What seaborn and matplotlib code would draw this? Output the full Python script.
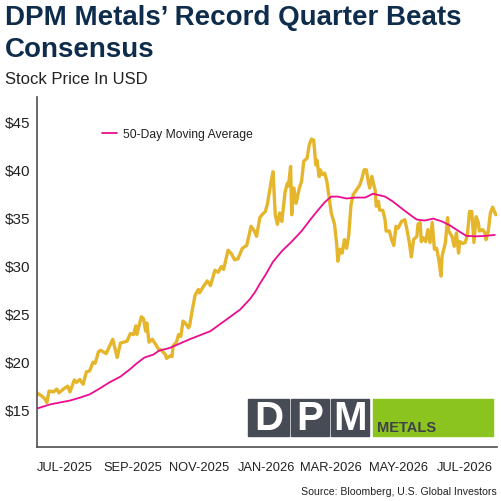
import pandas as pd
import matplotlib.pyplot as plt
import seaborn as sns
from matplotlib.patches import Rectangle

# 주가 (USD) - 차트에서 읽은 값
price_dates = [
    '2025-06-06', '2025-06-10', '2025-06-13', '2025-06-15', '2025-06-17', '2025-06-21', '2025-06-24',
    '2025-06-26', '2025-06-30', '2025-07-04', '2025-07-06', '2025-07-10', '2025-07-12', '2025-07-15',
    '2025-07-18', '2025-07-21', '2025-07-24', '2025-07-27', '2025-07-29', '2025-08-01', '2025-08-03',
    '2025-08-08', '2025-08-14', '2025-08-18', '2025-08-21', '2025-08-24', '2025-08-27', '2025-08-30',
    '2025-09-02', '2025-09-04', '2025-09-05', '2025-09-09', '2025-09-11', '2025-09-13', '2025-09-14',
    '2025-09-16', '2025-09-19', '2025-09-23', '2025-09-25', '2025-09-27', '2025-10-01', '2025-10-02',
    '2025-10-05', '2025-10-07', '2025-10-08', '2025-10-11', '2025-10-13', '2025-10-15', '2025-10-17',
    '2025-10-19', '2025-10-22', '2025-10-23', '2025-10-25', '2025-10-28', '2025-10-31', '2025-11-01',
    '2025-11-04', '2025-11-08', '2025-11-11', '2025-11-15', '2025-11-18', '2025-11-21', '2025-11-23',
    '2025-11-27', '2025-11-30', '2025-12-03', '2025-12-06', '2025-12-10', '2025-12-14', '2025-12-18',
    '2025-12-21', '2025-12-23', '2025-12-26', '2025-12-28', '2025-12-31', '2026-01-02', '2026-01-05',
    '2026-01-07', '2026-01-09', '2026-01-11', '2026-01-13', '2026-01-15', '2026-01-18', '2026-01-20',
    '2026-01-21', '2026-01-23', '2026-01-24', '2026-01-26', '2026-01-28', '2026-01-31', '2026-02-02',
    '2026-02-04', '2026-02-07', '2026-02-09', '2026-02-11', '2026-02-13', '2026-02-15', '2026-02-16',
    '2026-02-18', '2026-02-19', '2026-02-21', '2026-02-23', '2026-02-25', '2026-02-27', '2026-03-01',
    '2026-03-04', '2026-03-06', '2026-03-07', '2026-03-09', '2026-03-11', '2026-03-13', '2026-03-15',
    '2026-03-17', '2026-03-19', '2026-03-21', '2026-03-24', '2026-03-27', '2026-03-29', '2026-03-31',
    '2026-04-02', '2026-04-04', '2026-04-05', '2026-04-07', '2026-04-09', '2026-04-10', '2026-04-11',
    '2026-04-13', '2026-04-14', '2026-04-17', '2026-04-19', '2026-04-20', '2026-04-23', '2026-04-25',
    '2026-04-27', '2026-04-29', '2026-05-01', '2026-05-04', '2026-05-07', '2026-05-09', '2026-05-11',
    '2026-05-13', '2026-05-15', '2026-05-18', '2026-05-19', '2026-05-21', '2026-05-22', '2026-05-24',
    '2026-05-26', '2026-05-28', '2026-05-30', '2026-06-01', '2026-06-03', '2026-06-05', '2026-06-07',
    '2026-06-09', '2026-06-10', '2026-06-13', '2026-06-15', '2026-06-16', '2026-06-19', '2026-06-21',
    '2026-06-23', '2026-06-25', '2026-06-26', '2026-06-29', '2026-07-01', '2026-07-03', '2026-07-05',
    '2026-07-07', '2026-07-09', '2026-07-11', '2026-07-13', '2026-07-14', '2026-07-17', '2026-07-19',
    '2026-07-20', '2026-07-22', '2026-07-24', '2026-07-26', '2026-07-27', '2026-07-29',
]
price_vals = [
    16.7, 16.4, 16.1, 15.7, 16.9, 16.8, 17.1,
    16.7, 17.1, 17.4, 16.8, 18.05, 17.8, 18.1,
    17.6, 18.9, 19.0, 19.9, 19.8, 21.0, 21.15,
    20.8, 22.3, 20.4, 21.9, 22.0, 22.1, 22.9,
    22.8, 23.7, 22.8, 24.65, 24.45, 23.15, 24.0,
    22.0, 22.3, 21.6, 21.2, 21.2, 20.7, 20.3,
    20.55, 20.5, 21.6, 22.0, 22.8, 22.6, 24.2,
    24.0, 23.5, 23.7, 25.1, 26.9, 27.5, 27.15,
    27.7, 28.4, 27.9, 29.5, 29.3, 29.9, 29.6,
    31.6, 31.25, 30.6, 30.7, 31.8, 32.1, 34.1,
    33.6, 33.05, 35.0, 35.3, 35.65, 36.5, 38.6,
    39.8, 35.3, 34.3, 35.5, 34.6, 37.7, 38.6,
    38.3, 40.35, 35.3, 38.1, 36.5, 38.1, 38.8,
    40.9, 41.2, 42.6, 43.2, 43.1, 40.5, 41.0,
    39.3, 40.0, 39.5, 39.65, 38.8, 37.2, 35.5,
    34.3, 32.2, 30.45, 31.7, 31.3, 32.7, 31.8,
    33.2, 36.35, 37.4, 37.9, 38.4, 39.1, 40.0,
    40.0, 38.6, 38.1, 39.3, 38.3, 37.9, 36.2,
    36.7, 35.8, 35.75, 34.8, 33.6, 33.6, 32.7,
    32.1, 34.1, 33.9, 34.6, 34.8, 33.75, 32.5,
    30.9, 32.7, 33.05, 34.3, 34.5, 32.5, 32.9,
    32.5, 33.75, 32.4, 34.5, 31.7, 31.8, 30.6,
    28.9, 31.0, 32.4, 35.0, 33.6, 33.05, 32.0,
    33.4, 31.3, 32.5, 32.3, 32.4, 33.2, 35.65,
    35.65, 32.4, 35.1, 34.45, 33.6, 33.75, 33.4,
    32.7, 33.6, 35.5, 36.1, 35.8, 35.3,
]

# 50일 이동평균
ma_dates = [
    '2025-06-06', '2025-06-18', '2025-07-06', '2025-07-15', '2025-07-24', '2025-08-02', '2025-08-11',
    '2025-08-21', '2025-08-30', '2025-09-05', '2025-09-12', '2025-09-20', '2025-09-25', '2025-10-05',
    '2025-10-23', '2025-11-11', '2025-11-26', '2025-12-08', '2025-12-17', '2025-12-22', '2025-12-26',
    '2025-12-31', '2026-01-07', '2026-01-15', '2026-01-24', '2026-02-02', '2026-02-10', '2026-02-16',
    '2026-02-23', '2026-03-01', '2026-03-07', '2026-03-15', '2026-03-23', '2026-04-01', '2026-04-08',
    '2026-04-19', '2026-04-26', '2026-05-06', '2026-05-13', '2026-05-18', '2026-05-25', '2026-06-02',
    '2026-06-10', '2026-06-17', '2026-06-25', '2026-07-02', '2026-07-11', '2026-07-20', '2026-07-28',
]
ma_vals = [
    15.07, 15.5, 15.9, 16.2, 16.55, 17.15, 17.8,
    18.4, 19.2, 19.8, 20.4, 20.7, 21.1, 21.4,
    22.3, 23.15, 24.4, 25.4, 26.5, 27.3, 28.1,
    29.0, 30.4, 31.5, 32.5, 33.6, 34.8, 35.65,
    36.6, 37.2, 37.2, 37.0, 37.1, 37.1, 37.5,
    37.2, 36.7, 35.8, 35.2, 34.8, 34.7, 34.9,
    34.6, 34.2, 33.6, 33.1, 33.05, 33.1, 33.2,
]

y_ticks = [15, 20, 25, 30, 35, 40, 45]
tick_dates = ['2025-08-01', '2025-10-01', '2025-12-01', '2026-02-01', '2026-04-01', '2026-06-01']
label_dates = ['2025-07-01', '2025-09-01', '2025-11-01', '2026-01-01', '2026-03-01', '2026-05-01', '2026-07-01']
month_labels = ['JUL-2025', 'SEP-2025', 'NOV-2025', 'JAN-2026', 'MAR-2026', 'MAY-2026', 'JUL-2026']

price_df = pd.DataFrame({'date': pd.to_datetime(price_dates), 'price': price_vals})
ma_df = pd.DataFrame({'date': pd.to_datetime(ma_dates), 'ma': ma_vals})

sns.set_style('white')
plt.rcParams['font.family'] = ['Liberation Sans', 'DejaVu Sans']

W = H = 502
fig = plt.figure(figsize=(5.02, 5.02), dpi=100)
ax = fig.add_axes([37 / W, 1 - 448 / H, 460 / W, 350 / H])

gold = '#E5B52C'
pink = '#EC0C8E'
grey = '#4F4F4F'
txt = '#222222'

sns.lineplot(data=price_df, x='date', y='price', color=gold, linewidth=2.4, ax=ax)
sns.lineplot(data=ma_df, x='date', y='ma', color=pink, linewidth=1.3, ax=ax,
             label='50-Day Moving Average')

ax.set_xlim(pd.Timestamp('2025-06-06'), pd.Timestamp('2026-07-30'))
ax.set_ylim(11.05, 47.6)
ax.set_yticks(y_ticks)
ax.set_yticklabels([f'${v}' for v in y_ticks])
ax.set_xticks(pd.to_datetime(tick_dates))
ax.set_xticklabels([])
ax.set_xticks(pd.to_datetime(label_dates), minor=True)
ax.set_xticklabels(month_labels, minor=True)
ax.set_xlabel('')
ax.set_ylabel('')

for s in ['top', 'right']:
    ax.spines[s].set_visible(False)
for s in ['left', 'bottom']:
    ax.spines[s].set_color(grey)
    ax.spines[s].set_linewidth(1.2)

ax.tick_params(axis='y', which='major', direction='out', length=3.5, width=1, color=grey,
               labelsize=11, labelcolor=txt, pad=1.5)
ax.tick_params(axis='x', which='major', direction='out', length=4, width=1, color=grey)
ax.tick_params(axis='x', which='minor', length=0, labelsize=9.3, labelcolor=txt, pad=10)

leg = ax.legend(loc='center left', bbox_to_anchor=(0.118, 0.895), frameon=False,
                fontsize=8.7, handlelength=1.2, handletextpad=0.5)
for t in leg.get_texts():
    t.set_color(txt)

# 제목
fig.text(5 / W, 1 - 5 / H, 'DPM Metals’ Record Quarter Beats\nConsensus',
         ha='left', va='top', fontsize=20, fontweight='bold', color='#0E2C4C',
         linespacing=1.3)
fig.text(5 / W, 1 - 80 / H, 'Stock Price In USD', ha='left', va='center',
         fontsize=12, color=txt)
fig.text(497 / W, 1 - 492 / H, 'Source: Bloomberg, U.S. Global Investors', ha='right',
         va='center', fontsize=7.6, color=txt)

# 로고
def box(x0, x1, color):
    fig.patches.append(Rectangle((x0 / W, 1 - 437 / H), (x1 - x0) / W, 37 / H,
                                 transform=fig.transFigure, color=color, zorder=5))

dark = '#474B55'
for x0, x1, letter in [(248, 289, 'D'), (291, 329, 'P'), (331, 369, 'M')]:
    box(x0, x1, dark)
    fig.text((x0 + x1) / 2 / W, 1 - 419 / H, letter, ha='center', va='center',
             fontsize=29, fontweight='bold', color='white', zorder=6)
box(373, 493, '#8CC41F')
fig.text(377 / W, 1 - 428 / H, 'METALS', ha='left', va='center', fontsize=10.5,
         fontweight='bold', color='#3E414B', zorder=6)

fig.savefig('out.png', dpi=100)
